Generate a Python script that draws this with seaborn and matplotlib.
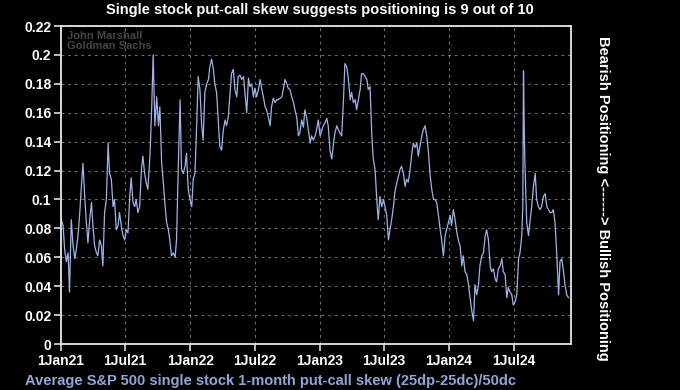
import matplotlib
matplotlib.use("Agg")
import matplotlib.pyplot as plt
import matplotlib.dates as mdates
import seaborn as sns
import pandas as pd
import numpy as np

# ---- data: days since 1 Jan 2021 and skew values ----
days_2021 = [1, 6, 10, 15, 20, 24, 29, 34, 39, 43, 48, 53, 57, 62, 67, 71, 76, 81, 86, 90,
             95, 100, 104, 109, 114, 118, 123, 128, 133, 137, 142, 147, 151, 156, 161, 165,
             170, 175, 180, 184, 189, 194, 198, 203, 208, 212, 217, 222, 227, 231, 236, 241, 245]
vals_2021 = [0.086, 0.082, 0.066, 0.057, 0.063, 0.036, 0.086, 0.068, 0.059, 0.065, 0.075,
             0.091, 0.107, 0.125, 0.102, 0.086, 0.070, 0.086, 0.098, 0.082, 0.068, 0.063,
             0.061, 0.072, 0.068, 0.054, 0.091, 0.100, 0.139, 0.118, 0.114, 0.095, 0.100,
             0.079, 0.082, 0.091, 0.082, 0.075, 0.072, 0.079, 0.077, 0.102, 0.115, 0.098,
             0.095, 0.100, 0.091, 0.095, 0.121, 0.130, 0.118, 0.111, 0.107]

days_2122 = [251, 256, 260, 265, 270, 275, 279, 284, 289, 293, 298, 303, 307, 312, 317, 322,
             326, 331, 336, 340, 345, 350, 354, 359, 364, 369, 373, 378, 383, 387, 392, 397,
             401, 406, 411, 416, 420, 425, 430, 434, 439, 444, 448, 453, 458, 463, 467, 472,
             477, 481, 486]
vals_2122 = [0.130, 0.164, 0.200, 0.151, 0.171, 0.151, 0.164, 0.125, 0.111, 0.098, 0.084,
             0.079, 0.072, 0.061, 0.063, 0.060, 0.072, 0.123, 0.169, 0.121, 0.118, 0.123,
             0.132, 0.107, 0.100, 0.095, 0.114, 0.118, 0.153, 0.185, 0.176, 0.151, 0.141,
             0.174, 0.180, 0.183, 0.192, 0.197, 0.190, 0.180, 0.174, 0.153, 0.137, 0.134,
             0.148, 0.155, 0.151, 0.157, 0.174, 0.187, 0.190]

days_2022 = [491, 496, 500, 505, 510, 515, 519, 524, 529, 533, 538, 543, 547, 552, 557, 562,
             566, 571, 576, 580, 585, 590, 594, 599, 604, 609, 613, 618, 623, 627, 632, 637,
             641, 646, 651, 656, 660, 665, 670, 674, 679, 684, 688, 693, 698, 703, 707, 712,
             717, 721, 726]
vals_2022 = [0.176, 0.171, 0.185, 0.186, 0.183, 0.185, 0.174, 0.160, 0.184, 0.178, 0.180,
             0.171, 0.177, 0.171, 0.176, 0.183, 0.177, 0.171, 0.164, 0.162, 0.157, 0.151,
             0.164, 0.170, 0.167, 0.169, 0.169, 0.170, 0.171, 0.176, 0.183, 0.180, 0.177,
             0.176, 0.171, 0.167, 0.162, 0.157, 0.144, 0.146, 0.155, 0.150, 0.162, 0.157,
             0.148, 0.139, 0.144, 0.141, 0.144, 0.148, 0.155]

days_2023 = [731, 736, 740, 745, 750, 754, 759, 764, 769, 773, 778, 783, 787, 792, 797, 801,
             806, 811, 816, 820, 825, 830, 834, 839, 844, 848, 853, 858, 863, 867, 872, 877,
             881, 886, 891, 895, 900, 905, 910, 914, 919, 924, 928, 933, 938, 942, 947, 952,
             957, 961, 966]
vals_2023 = [0.144, 0.148, 0.151, 0.153, 0.156, 0.151, 0.134, 0.128, 0.139, 0.146, 0.151,
             0.148, 0.146, 0.144, 0.169, 0.194, 0.192, 0.183, 0.169, 0.174, 0.167, 0.169,
             0.162, 0.169, 0.176, 0.187, 0.187, 0.185, 0.183, 0.176, 0.178, 0.144, 0.128,
             0.121, 0.100, 0.086, 0.102, 0.095, 0.100, 0.095, 0.089, 0.072, 0.079, 0.086,
             0.095, 0.105, 0.111, 0.116, 0.121, 0.123, 0.118]

days_2324 = [971, 975, 980, 985, 990, 994, 999, 1004, 1008, 1013, 1018, 1022, 1027, 1032,
             1037, 1041, 1046, 1051, 1055, 1060, 1065, 1070, 1074, 1079, 1084, 1088, 1093,
             1098, 1102, 1107, 1112, 1117, 1121, 1126, 1131, 1135, 1140, 1145, 1150, 1154,
             1159, 1164, 1168, 1173, 1178, 1182, 1187, 1192, 1197, 1201, 1206]
vals_2324 = [0.109, 0.114, 0.112, 0.121, 0.132, 0.139, 0.136, 0.139, 0.130, 0.137, 0.144,
             0.148, 0.151, 0.144, 0.132, 0.118, 0.107, 0.100, 0.100, 0.098, 0.089, 0.079,
             0.072, 0.061, 0.075, 0.079, 0.084, 0.089, 0.082, 0.093, 0.086, 0.077, 0.072,
             0.068, 0.054, 0.061, 0.050, 0.048, 0.041, 0.032, 0.023, 0.016, 0.041, 0.034,
             0.041, 0.054, 0.061, 0.063, 0.075, 0.079, 0.072]

days_2024 = [1211, 1215, 1220, 1225, 1229, 1234, 1239, 1244, 1248, 1253, 1258, 1262, 1267,
             1272, 1276, 1281, 1286, 1291, 1295, 1300, 1303, 1305, 1307, 1309, 1314, 1319,
             1324, 1328, 1333, 1338, 1342, 1347, 1352, 1356, 1361, 1366, 1371, 1375, 1380,
             1385, 1389, 1394, 1399, 1404, 1408, 1413, 1418, 1422, 1427, 1432]
vals_2024 = [0.054, 0.050, 0.052, 0.045, 0.043, 0.052, 0.054, 0.059, 0.050, 0.048, 0.032,
             0.039, 0.036, 0.034, 0.027, 0.029, 0.034, 0.059, 0.063, 0.075, 0.095, 0.189,
             0.150, 0.125, 0.084, 0.075, 0.086, 0.095, 0.109, 0.118, 0.100, 0.095, 0.093,
             0.095, 0.102, 0.104, 0.095, 0.093, 0.091, 0.091, 0.093, 0.084, 0.061, 0.034,
             0.057, 0.059, 0.050, 0.041, 0.034, 0.032]

tick_dates = ["2021-01-01", "2021-07-01", "2022-01-01", "2022-07-01", "2023-01-01",
              "2023-07-01", "2024-01-01", "2024-07-01"]
tick_labels = ["1Jan21", "1Jul21", "1Jan22", "1Jul22", "1Jan23", "1Jul23", "1Jan24", "1Jul24"]
y_ticks = [0, 0.02, 0.04, 0.06, 0.08, 0.1, 0.12, 0.14, 0.16, 0.18, 0.2, 0.22]
y_labels = ["0", "0.02", "0.04", "0.06", "0.08", "0.1", "0.12", "0.14", "0.16", "0.18", "0.2", "0.22"]

title = "Single stock put-call skew suggests positioning is 9 out of 10"
xlabel = "Average S&P 500 single stock 1-month put-call skew (25dp-25dc)/50dc"
right_label = "Bearish Positioning <------> Bullish Positioning"
watermark = "John Marshall\nGoldman Sachs"

# ---- build frame ----
days = days_2021 + days_2122 + days_2022 + days_2023 + days_2324 + days_2024
vals = vals_2021 + vals_2122 + vals_2022 + vals_2023 + vals_2324 + vals_2024
df = pd.DataFrame({
    "date": pd.Timestamp("2021-01-01") + pd.to_timedelta(days, unit="D"),
    "skew": vals,
})

sns.set_theme(style="dark")
plt.rcParams["font.family"] = ["Liberation Sans", "DejaVu Sans"]

fig = plt.figure(figsize=(6.8, 3.9), dpi=100, facecolor="black")
ax = fig.add_axes([61 / 680, 1 - 344 / 390, 510 / 680, 318 / 390])
ax.set_facecolor("black")

sns.lineplot(data=df, x="date", y="skew", ax=ax, color="#9db4e6", linewidth=0.9)

ax.set_xlim(pd.Timestamp("2021-01-01"), pd.Timestamp("2024-12-10"))
ax.set_ylim(0, 0.22)
ax.set_xticks(pd.to_datetime(tick_dates))
ax.set_xticklabels(tick_labels)
ax.set_yticks(y_ticks)
ax.set_yticklabels(y_labels)

for lab in ax.get_xticklabels() + ax.get_yticklabels():
    lab.set_color("white")
    lab.set_fontweight("bold")
    lab.set_fontsize(10)

ax.tick_params(axis="both", which="both", direction="out", length=5, width=1.2,
               color="#dddddd", bottom=True, left=True, pad=2)
for s in ax.spines.values():
    s.set_color("#e6e6e6")
    s.set_linewidth(1.3)
    s.set_visible(True)

ax.grid(True, color="#7a7a7a", linestyle=(0, (2.5, 3.5)), linewidth=0.8, alpha=0.9)
ax.set_axisbelow(True)
ax.set_xlabel("")
ax.set_ylabel("")

fig.text(320 / 680, 1 - 10 / 390, title, color="white", fontsize=10.5,
         fontweight="bold", ha="center", va="center")
fig.text(25 / 680, 1 - 381 / 390, xlabel, color="#8ea7db", fontsize=10.5,
         fontweight="bold", ha="left", va="center")
fig.text(603 / 680, 1 - 198 / 390, right_label, color="white", fontsize=10.5,
         fontweight="bold", ha="center", va="center", rotation=-90)
ax.text(0.012, 0.985, watermark, transform=ax.transAxes, color="#444444",
        fontsize=8, fontweight="bold", ha="left", va="top", linespacing=1.0)

fig.savefig("out.png", dpi=100, facecolor="black")
